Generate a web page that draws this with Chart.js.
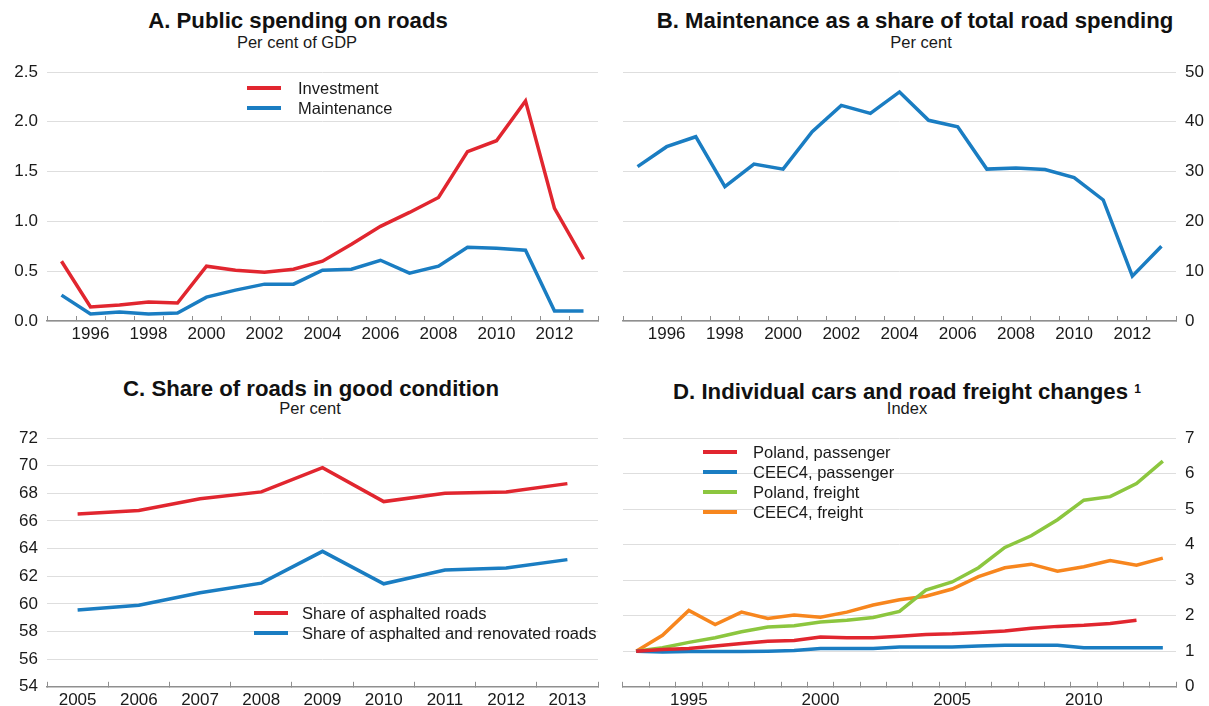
<!DOCTYPE html>
<html><head><meta charset="utf-8">
<script src="https://cdn.jsdelivr.net/npm/chart.js@4"></script>
<style>
body{margin:0;width:1209px;height:706px;background:#fff;position:relative;overflow:hidden;font-family:"Liberation Sans",Arial,Helvetica,sans-serif;color:#1a1a1a}
.t{position:absolute;font-weight:bold;font-size:22.2px;line-height:24px;white-space:nowrap;transform:translateX(-50%);color:#111}
.t span{font-size:12px;vertical-align:6px}
.s{position:absolute;font-size:16.5px;line-height:19px;white-space:nowrap;transform:translateX(-50%);color:#1a1a1a}
.cw{position:absolute}
.lg{position:absolute;font-size:16.5px;color:#1a1a1a}
.lg .r{position:relative;height:20px;line-height:20px;white-space:nowrap}
.lg .sw{position:absolute;left:0;top:8px;width:34px;height:4px}
</style>
</head><body>

<div class="t" style="left:298px;top:9px">A. Public spending on roads</div>
<div class="s" style="left:297px;top:33px">Per cent of GDP</div>
<div class="t" style="left:915px;top:9px">B. Maintenance as a share of total road spending</div>
<div class="s" style="left:921px;top:33px">Per cent</div>
<div class="t" style="left:311px;top:377px">C. Share of roads in good condition</div>
<div class="s" style="left:310px;top:399px">Per cent</div>
<div class="t" style="left:907px;top:377px">D. Individual cars and road freight changes <span>1</span></div>
<div class="s" style="left:907px;top:399px">Index</div>

<div class="cw" style="left:0;top:50px"><canvas id="cA" width="604" height="300"></canvas></div>
<div class="cw" style="left:604px;top:50px"><canvas id="cB" width="605" height="300"></canvas></div>
<div class="cw" style="left:0;top:410px"><canvas id="cC" width="604" height="296"></canvas></div>
<div class="cw" style="left:604px;top:410px"><canvas id="cD" width="605" height="296"></canvas></div>

<div class="lg" id="lgA" style="left:247px;top:78px"></div>
<div class="lg" id="lgC" style="left:254px;top:603px"></div>
<div class="lg" id="lgD" style="left:703px;top:442px"></div>

<script>
// ---------- DATA ----------
const yearsAB = ['1995','1996','1997','1998','1999','2000','2001','2002','2003','2004','2005','2006','2007','2008','2009','2010','2011','2012','2013'];
const ticksAB = ['1996','1998','2000','2002','2004','2006','2008','2010','2012'];
const investment = [0.60,0.14,0.16,0.19,0.18,0.55,0.51,0.49,0.52,0.60,0.77,0.95,1.09,1.24,1.70,1.81,2.21,1.13,0.62];
const maintenance = [0.26,0.07,0.09,0.07,0.08,0.24,0.31,0.37,0.37,0.51,0.52,0.61,0.48,0.55,0.74,0.73,0.71,0.10,0.10];
const maintShare = [31.0,35.0,37.0,27.0,31.5,30.5,38.0,43.3,41.7,46.0,40.3,39.0,30.5,30.7,30.4,28.8,24.3,9.0,15.0];

const yearsC = ['2005','2006','2007','2008','2009','2010','2011','2012','2013'];
const asphalted = [66.5,66.75,67.6,68.1,69.85,67.4,68.0,68.1,68.7];
const asphaltedRenovated = [59.55,59.9,60.8,61.5,63.8,61.45,62.45,62.6,63.2];

const yearsD = ['1993','1994','1995','1996','1997','1998','1999','2000','2001','2002','2003','2004','2005','2006','2007','2008','2009','2010','2011','2012','2013'];
const ticksD = ['1995','2000','2005','2010'];
const polandPassenger = [1.0,1.05,1.08,1.15,1.22,1.28,1.30,1.40,1.38,1.38,1.42,1.47,1.49,1.53,1.57,1.65,1.70,1.73,1.78,1.87,null];
const ceecPassenger = [1.0,0.98,0.99,0.99,0.99,1.0,1.02,1.08,1.08,1.08,1.12,1.12,1.12,1.15,1.17,1.17,1.17,1.10,1.10,1.10,1.10];
const polandFreight = [1.0,1.10,1.25,1.38,1.55,1.68,1.72,1.82,1.87,1.95,2.12,2.72,2.95,3.35,3.92,4.25,4.70,5.25,5.35,5.72,6.35];
const ceecFreight = [1.0,1.45,2.15,1.75,2.10,1.92,2.02,1.96,2.10,2.30,2.45,2.55,2.75,3.10,3.35,3.45,3.25,3.38,3.55,3.42,3.62];

// ---------- STYLE ----------
const RED='#e1262f', BLUE='#1a7dc2', GREEN='#8cc63f', ORANGE='#f7861e';
const FONT={family:'"Liberation Sans", Arial, sans-serif', size:17};
const TXT='#1a1a1a', GRID='#dedede', AXIS='#8f8f8f';

function ds(label,data,color){
  return {label,data,borderColor:color,backgroundColor:color,borderWidth:3.5,pointRadius:0,tension:0,fill:false,spanGaps:false};
}
function xScale(shown,h){
  return {
    type:'category', offset:true,
    grid:{display:true,offset:true,drawOnChartArea:false,drawTicks:true,tickLength:-5,color:AXIS,lineWidth:1},
    border:{display:true,color:AXIS,width:1.5},
    ticks:{autoSkip:false,maxRotation:0,minRotation:0,padding:8,color:TXT,font:FONT,
      callback:function(v){const l=this.getLabelForValue(v);return shown.includes(l)?l:'';}},
    afterFit:s=>{s.height=h;}
  };
}
function yScale(pos,min,max,step,w,fmt){
  return {
    position:pos,min,max,
    grid:{color:GRID,lineWidth:1,drawTicks:false},
    border:{display:false},
    ticks:{stepSize:step,padding:9,color:TXT,font:FONT,callback:fmt||(v=>v)},
    afterFit:s=>{s.width=w;}
  };
}
function make(id,labels,datasets,x,y,padding){
  new Chart(document.getElementById(id),{
    type:'line',
    data:{labels,datasets},
    options:{
      responsive:false,animation:false,devicePixelRatio:1,
      layout:{padding},
      plugins:{legend:{display:false},tooltip:{enabled:false},title:{display:false}},
      scales:{x,y}
    }
  });
}

make('cA',yearsAB,[ds('Investment',investment,RED),ds('Maintenance',maintenance,BLUE)],
  xScale(ticksAB,29),yScale('left',0,2.5,0.5,47,v=>v.toFixed(1)),{top:22,right:6,left:0,bottom:0});
make('cB',yearsAB,[ds('Maintenance share',maintShare,BLUE)],
  xScale(ticksAB,29),yScale('right',0,50,10,33),{top:22,right:0,left:19,bottom:0});
make('cC',yearsC,[ds('Share of asphalted roads',asphalted,RED),ds('Share of asphalted and renovated roads',asphaltedRenovated,BLUE)],
  xScale(yearsC,19),yScale('left',54,72,2,47),{top:28,right:6,left:0,bottom:0});
make('cD',yearsD,[ds('Poland, passenger',polandPassenger,RED),ds('CEEC4, passenger',ceecPassenger,BLUE),ds('Poland, freight',polandFreight,GREEN),ds('CEEC4, freight',ceecFreight,ORANGE)],
  xScale(ticksD,19),yScale('right',0,7,1,33),{top:28,right:0,left:19,bottom:0});

// ---------- LEGENDS ----------
function legend(id,items,textLeft){
  const el=document.getElementById(id);
  items.forEach(([label,color])=>{
    const r=document.createElement('div');r.className='r';r.style.paddingLeft=textLeft+'px';
    const sw=document.createElement('span');sw.className='sw';sw.style.background=color;
    r.appendChild(sw);r.appendChild(document.createTextNode(label));el.appendChild(r);
  });
}
legend('lgA',[['Investment',RED],['Maintenance',BLUE]],51);
legend('lgC',[['Share of asphalted roads',RED],['Share of asphalted and renovated roads',BLUE]],48);
legend('lgD',[['Poland, passenger',RED],['CEEC4, passenger',BLUE],['Poland, freight',GREEN],['CEEC4, freight',ORANGE]],50);
</script>
</body></html>
